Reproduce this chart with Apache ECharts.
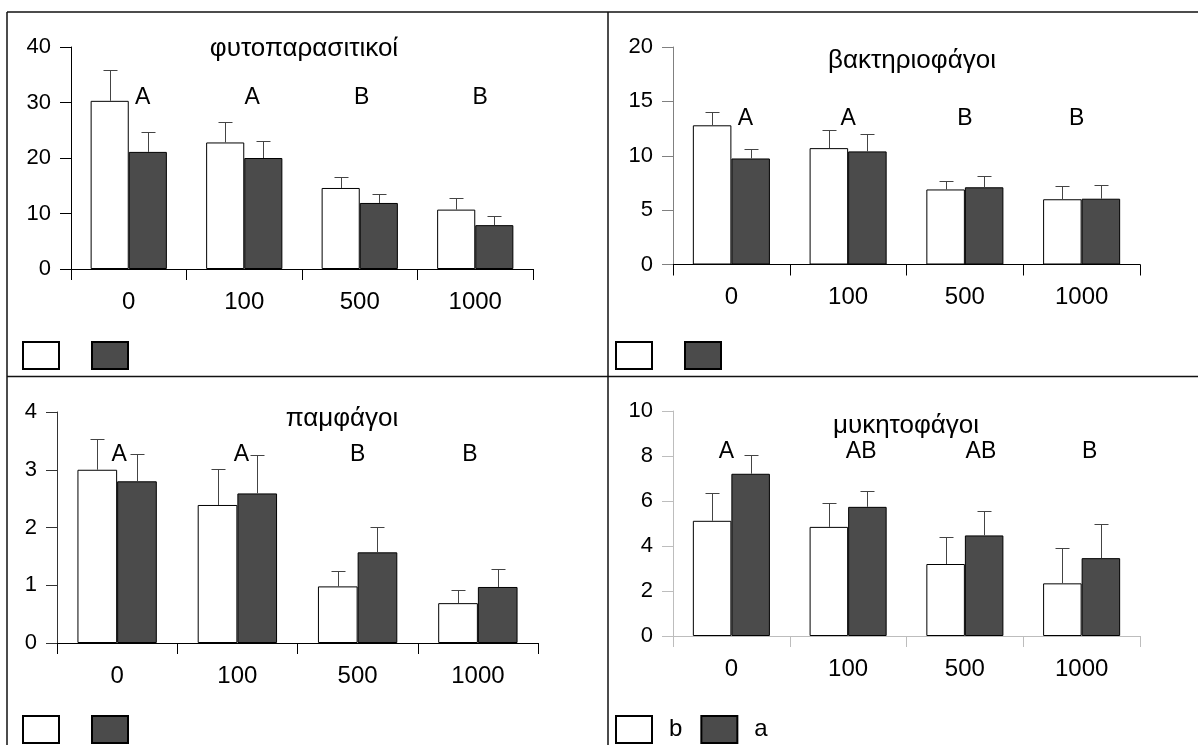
<!DOCTYPE html>
<html><head><meta charset="utf-8">
<script src="https://cdn.jsdelivr.net/npm/echarts@6/dist/echarts.min.js"></script>
<style>html,body{margin:0;padding:0;background:#fff}#c{width:1198px;height:745px}</style>
</head><body><div id="c"></div>
<script>
// ---- data ----
const categories = ['0', '100', '500', '1000'];
const seriesNames = ['b', 'a'];
const titles = ['φυτοπαρασιτικοί', 'βακτηριοφάγοι', 'παμφάγοι', 'μυκητοφάγοι'];

const fytoB = [30.3, 22.8, 14.6, 10.7];
const fytoBErr = [5.5, 3.6, 2.0, 2.1];
const fytoA = [21.1, 20.0, 11.9, 7.9];
const fytoAErr = [3.6, 3.1, 1.6, 1.7];
const fytoLetters = ['A', 'A', 'B', 'B'];

const baktB = [12.8, 10.7, 6.9, 6.0];
const baktBErr = [1.2, 1.7, 0.8, 1.2];
const baktA = [9.75, 10.4, 7.1, 6.05];
const baktAErr = [0.85, 1.6, 1.0, 1.3];
const baktLetters = ['A', 'A', 'B', 'B'];

const pamB = [3.0, 2.39, 0.98, 0.69];
const pamBErr = [0.53, 0.63, 0.26, 0.225];
const pamA = [2.8, 2.59, 1.57, 0.97];
const pamAErr = [0.48, 0.67, 0.44, 0.315];
const pamLetters = ['A', 'A', 'B', 'B'];

const mykB = [5.12, 4.85, 3.2, 2.34];
const mykBErr = [1.23, 1.04, 1.21, 1.58];
const mykA = [7.21, 5.74, 4.47, 3.46];
const mykAErr = [0.85, 0.71, 1.08, 1.5];
const mykLetters = ['A', 'AB', 'AB', 'B'];

const yMax = [40, 20, 4, 10];
const yStep = [10, 5, 1, 2];

// ---- layout / style ----
const FONT = 'Liberation Sans, Arial, sans-serif';
const CAT_GAP = 0.34;
const panels = [
  { b: fytoB, be: fytoBErr, a: fytoA, ae: fytoAErr, letters: fytoLetters,
    grid: { left: 71, top: 47, width: 462, height: 222 },
    axisX: '#000', axisY: '#000', letterY: 30.9, letterDx: [14, 8, 2, 5],
    title: [304, 49], legend: [22, 341], legendText: false },
  { b: baktB, be: baktBErr, a: baktA, ae: baktAErr, letters: baktLetters,
    grid: { left: 673, top: 47, width: 467, height: 217.5 },
    axisX: '#000', axisY: '#808080', letterY: 13.45, letterDx: [14, 0, 0, -5],
    title: [912, 61], legend: [615, 341], legendText: false },
  { b: pamB, be: pamBErr, a: pamA, ae: pamAErr, letters: pamLetters,
    grid: { left: 57, top: 412, width: 481, height: 231 },
    axisX: '#000', axisY: '#333', letterY: 3.26, letterDx: [2, 4, 0, -8],
    title: [342, 419], legend: [22, 715], legendText: false },
  { b: mykB, be: mykBErr, a: mykA, ae: mykAErr, letters: mykLetters,
    grid: { left: 673, top: 411, width: 467, height: 225 },
    axisX: '#bdbdbd', axisY: '#bdbdbd', letterY: 8.19, letterDx: [-5, 13, 16, 8],
    title: [906, 426], legend: [615, 715], legendText: true }
];

const grids = [], xAxes = [], yAxes = [], series = [], legends = [], graphics = [];

function errRender(side) {
  return function (params, api) {
    const cat = api.value(0), mean = api.value(1), err = api.value(2);
    const p0 = api.coord([cat, mean]);
    const p1 = api.coord([cat, mean + err]);
    const catW = api.size([1, 0])[0];
    const bw = catW * (1 - CAT_GAP) / 2;
    const x = Math.round(p0[0] + side * bw / 2) + 0.5;
    const yt = Math.round(p1[1]) + 0.5;
    const st = { stroke: '#444', lineWidth: 1 };
    return { type: 'group', children: [
      { type: 'line', shape: { x1: x, y1: p0[1], x2: x, y2: yt }, style: st },
      { type: 'line', shape: { x1: x - 7, y1: yt, x2: x + 7, y2: yt }, style: st }
    ] };
  };
}

panels.forEach((p, i) => {
  grids.push(p.grid);
  xAxes.push({
    type: 'category', gridIndex: i, data: categories, boundaryGap: true,
    axisLine: { lineStyle: { color: p.axisX, width: 1 } },
    axisTick: { show: true, length: 11, inside: false, lineStyle: { color: p.axisX } },
    axisLabel: { fontFamily: FONT, fontSize: 24, color: '#000', margin: 21 },
    splitLine: { show: false }
  });
  yAxes.push({
    type: 'value', gridIndex: i, min: 0, max: yMax[i], interval: yStep[i],
    axisLine: { show: true, lineStyle: { color: p.axisY, width: 1 } },
    axisTick: { show: true, length: 11, lineStyle: { color: p.axisY } },
    axisLabel: { fontFamily: FONT, fontSize: 22, color: '#000', margin: 20 },
    splitLine: { show: false }
  });
  series.push({
    name: seriesNames[0], type: 'bar', xAxisIndex: i, yAxisIndex: i, data: p.b,
    barGap: '0%', barCategoryGap: (CAT_GAP * 100) + '%',
    itemStyle: { color: '#ffffff', borderColor: '#000', borderWidth: 1 },
    emphasis: { disabled: true }, animation: false
  });
  series.push({
    name: seriesNames[1], type: 'bar', xAxisIndex: i, yAxisIndex: i, data: p.a,
    barGap: '0%', barCategoryGap: (CAT_GAP * 100) + '%',
    itemStyle: { color: '#4b4b4b', borderColor: '#000', borderWidth: 1 },
    emphasis: { disabled: true }, animation: false
  });
  series.push({
    type: 'custom', xAxisIndex: i, yAxisIndex: i, z: 5, animation: false, silent: true,
    data: p.b.map((v, k) => [k, v, p.be[k]]), renderItem: errRender(-1)
  });
  series.push({
    type: 'custom', xAxisIndex: i, yAxisIndex: i, z: 5, animation: false, silent: true,
    data: p.a.map((v, k) => [k, v, p.ae[k]]), renderItem: errRender(1)
  });
  series.push({
    type: 'custom', xAxisIndex: i, yAxisIndex: i, z: 6, animation: false, silent: true,
    data: p.letters.map((t, k) => [k, p.letterY]),
    renderItem: function (params, api) {
      const k = params.dataIndex;
      const c = api.coord([api.value(0), api.value(1)]);
      return { type: 'text', x: c[0] + p.letterDx[k], y: c[1],
        style: { text: p.letters[k], fill: '#000', font: '23px ' + FONT,
          textAlign: 'center', textVerticalAlign: 'middle', align: 'center', verticalAlign: 'middle' } };
    }
  });
  legends.push({
    left: p.legend[0], top: p.legend[1], orient: 'horizontal', padding: 0,
    data: seriesNames, icon: 'rect', itemWidth: 36, itemHeight: 27,
    itemGap: p.legendText ? 18 : 31, selectedMode: false,
    formatter: p.legendText ? (n => n) : (() => ''),
    textStyle: { fontFamily: FONT, fontSize: 24, color: '#000', padding: [0, 0, 0, 12] }
  });
  graphics.push({
    type: 'text', x: p.title[0], y: p.title[1],
    style: { text: titles[i], fill: '#000', font: '26px ' + FONT,
      textAlign: 'center', textVerticalAlign: 'middle', align: 'center', verticalAlign: 'middle' }
  });
});

// panel frame lines
const frame = { stroke: '#111', lineWidth: 1.5 };
[[7, 12, 1198, 12], [7, 376.5, 1198, 376.5], [7, 12, 7, 745], [608, 12, 608, 745]].forEach(l => {
  graphics.push({ type: 'line', shape: { x1: l[0], y1: l[1], x2: l[2], y2: l[3] }, style: frame, silent: true });
});

const chart = echarts.init(document.getElementById('c'), null, { renderer: 'canvas' });
chart.setOption({
  animation: false, backgroundColor: '#fff',
  grid: grids, xAxis: xAxes, yAxis: yAxes, series: series, legend: legends, graphic: graphics
});
</script></body></html>
